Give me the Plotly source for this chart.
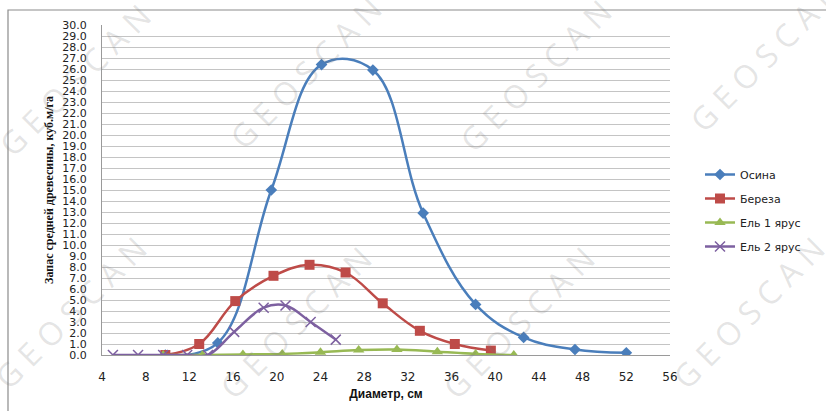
import plotly.graph_objects as go

# Mean diameter classes (cm) and stand volume (m3/ha) per species
osina_x = [9.8, 14.6, 19.5, 24.1, 28.8, 33.4, 38.2, 42.6, 47.3, 52.0]
osina_y = [0.0, 1.1, 15.0, 26.4, 25.9, 12.9, 4.6, 1.6, 0.5, 0.2]

bereza_x = [9.8, 12.9, 16.2, 19.7, 23.0, 26.3, 29.7, 33.1, 36.3, 39.6]
bereza_y = [0.0, 1.0, 4.9, 7.2, 8.2, 7.5, 4.7, 2.2, 1.0, 0.4]

el1_x = [9.6, 13.2, 16.9, 20.5, 24.0, 27.5, 31.0, 34.7, 38.2, 41.7]
el1_y = [0.0, 0.0, 0.05, 0.1, 0.25, 0.45, 0.5, 0.3, 0.1, 0.0]

el2_x = [5.0, 7.3, 9.6, 11.8, 13.7, 16.1, 18.8, 20.8, 23.1, 25.4]
el2_y = [0.0, 0.0, 0.0, 0.0, 0.0, 2.1, 4.3, 4.5, 3.0, 1.4]

x_ticks = [4, 8, 12, 16, 20, 24, 28, 32, 36, 40, 44, 48, 52, 56]

series = [
    ("Осина", osina_x, osina_y, "#4A7EBB", dict(symbol="diamond", size=9)),
    ("Береза", bereza_x, bereza_y, "#BE4B48", dict(symbol="square", size=10)),
    ("Ель 1 ярус", el1_x, el1_y, "#98B954", dict(symbol="triangle-up", size=10)),
    ("Ель 2 ярус", el2_x, el2_y, "#7D60A0",
     dict(symbol="x-thin-open", size=10, line=dict(width=1.5, color="#7D60A0"))),
]

fig = go.Figure()
for name, xs, ys, color, marker in series:
    fig.add_trace(go.Scatter(
        x=xs, y=ys, name=name, mode="lines+markers", legendgroup=name,
        line=dict(color=color, width=2.5, shape="spline", smoothing=1.1),
        marker=dict(color=color, **marker),
    ))

# plot area: x 102..670 px, y 25..355 px
L, R, T, B = 102, 670, 25, 355
def px(xp):
    return (xp - L) / (R - L)
def py(yp):
    return (B - yp) / (B - T)

# outer chart frame
fig.add_shape(type="rect", xref="paper", yref="paper",
              x0=px(8), x1=px(900), y0=py(500), y1=py(10),
              line=dict(color="#8c8c8c", width=1.2), layer="below")

# diagonal "GEOSCAN" marks
wm_centers = [(75, 80), (305, 72), (535, 75), (765, 55),
              (70, 312), (295, 322), (518, 322), (748, 312)]
for cx, cy in wm_centers:
    fig.add_annotation(x=px(cx), y=py(cy), xref="paper", yref="paper",
                       xanchor="center", yanchor="middle",
                       text="G E O S C A N", showarrow=False, textangle=-45,
                       font=dict(family="Open Sans", size=32, color="rgba(120,120,120,0.2)"))

fig.update_layout(
    width=826, height=411,
    margin=dict(l=L, r=826 - R, t=T, b=411 - B),
    paper_bgcolor="white", plot_bgcolor="white",
    showlegend=True,
    legend=dict(x=px(700), y=py(160), xanchor="left", yanchor="top",
                font=dict(family="DejaVu Sans", size=11, color="#222"),
                tracegroupgap=5, bgcolor="rgba(0,0,0,0)"),
    xaxis=dict(range=[4, 56], tickvals=x_ticks, showgrid=False, zeroline=False,
               showline=True, linecolor="#9a9a9a", linewidth=1,
               ticks="", ticklabelstandoff=11,
               tickfont=dict(family="DejaVu Sans", size=12, color="#222"),
               title=dict(text="<b>Диаметр, см</b>",
                          font=dict(family="Liberation Sans", size=12, color="#111"),
                          standoff=6)),
    yaxis=dict(range=[0, 30], dtick=1, tickformat=".1f", showgrid=True,
               gridcolor="#c4c4c4", gridwidth=1, zeroline=False,
               showline=True, linecolor="#9a9a9a", linewidth=1, mirror=False,
               ticks="", ticklabelstandoff=12,
               tickfont=dict(family="DejaVu Sans", size=11, color="#222"),
               title=dict(text="<b>Запас средней древесины, куб.м/га</b>",
                          font=dict(family="Liberation Sans Narrow", size=12, color="#111"),
                          standoff=6)),
)

fig.write_html("out.html")
